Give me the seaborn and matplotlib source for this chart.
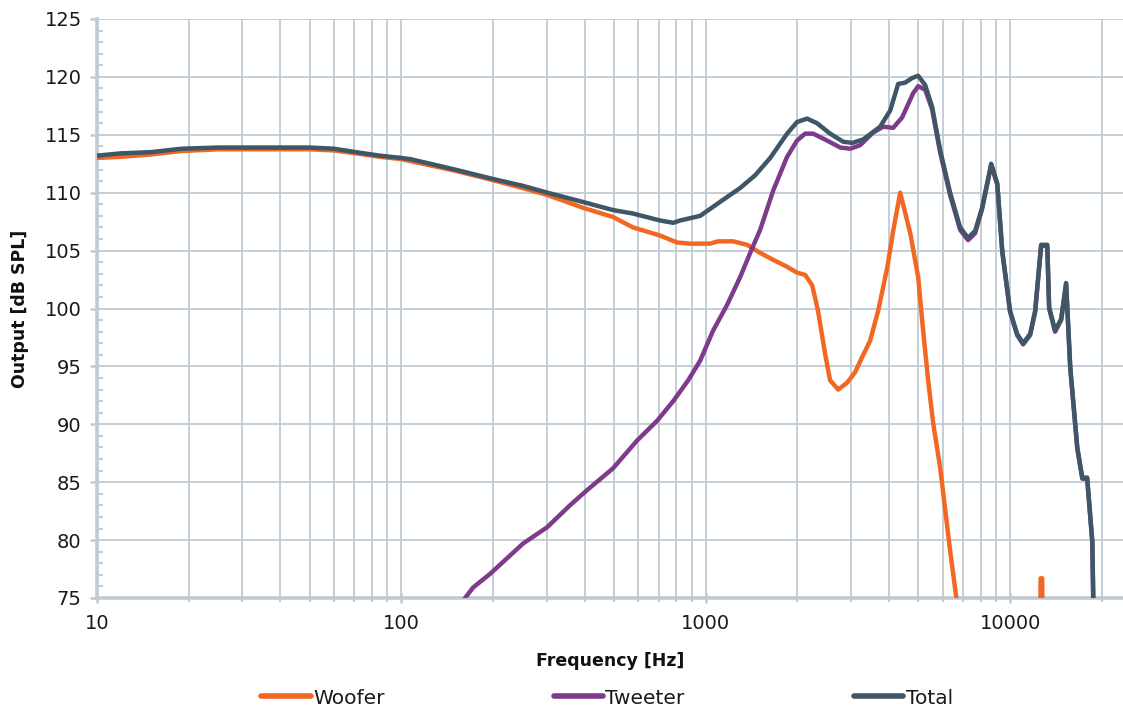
import numpy as np
import pandas as pd
import matplotlib
matplotlib.use("Agg")
import matplotlib.pyplot as plt
import seaborn as sns
from matplotlib.ticker import LogLocator, NullFormatter, FixedLocator, MultipleLocator

# ---------------- data ----------------
woofer_freq = [10, 12, 15, 19, 25, 50, 60, 71, 85, 100, 150, 199, 250, 302, 395, 496, 577,
               708, 805, 889, 1033, 1099, 1231, 1368, 1510, 1667, 1851, 1995, 2122, 2238,
               2339, 2467, 2563, 2725, 2917, 3097, 3266, 3467, 3687, 3947, 4130, 4355, 4700,
               4990, 5180, 5380, 5590, 5890, 6353, 6660, 6900, 8000, 12450, 12600, 12750,
               12900, 20000]
woofer_db = [113.0, 113.1, 113.3, 113.6, 113.75, 113.75, 113.65, 113.4, 113.1, 112.9, 111.9,
             111.1, 110.4, 109.8, 108.7, 107.9, 107.0, 106.3, 105.7, 105.6, 105.6, 105.8,
             105.8, 105.5, 104.8, 104.2, 103.6, 103.1, 102.9, 102.0, 99.8, 96.1, 93.8, 93.0,
             93.6, 94.5, 95.8, 97.2, 99.8, 103.5, 106.7, 110.0, 106.5, 102.7, 98.1, 93.8,
             90.1, 86.3, 79.1, 75.0, 70.0, 60.0, 60.0, 76.7, 76.7, 60.0, 55.0]

tweeter_freq = [140, 162, 172, 196, 251, 301, 358, 407, 496, 595, 692, 782, 876, 959, 1058,
                1175, 1297, 1400, 1510, 1667, 1851, 1995, 2122, 2255, 2505, 2768, 2985, 3216,
                3550, 3831, 4130, 4419, 4806, 4990, 5260, 5546, 5890, 6353, 6853, 7278, 7676,
                8094, 8670, 9078, 9425, 10000, 10550, 11040, 11640, 12090, 12650, 13250,
                13440, 14060, 14720, 15280, 15770, 16630, 17270, 17920, 18630, 18900]
tweeter_db = [73.0, 75.0, 75.9, 77.1, 79.7, 81.1, 83.0, 84.3, 86.2, 88.6, 90.3, 92.0, 93.8,
              95.5, 98.1, 100.3, 102.7, 104.8, 106.8, 110.2, 113.1, 114.5, 115.1, 115.1, 114.5,
              113.9, 113.8, 114.1, 115.2, 115.7, 115.6, 116.5, 118.6, 119.2, 118.9, 117.2,
              113.5, 109.8, 106.8, 105.9, 106.5, 108.6, 112.4, 110.7, 104.9, 99.7, 97.7, 96.9,
              97.7, 99.7, 105.4, 105.4, 100.0, 98.0, 99.0, 102.1, 94.8, 87.9, 85.3, 85.3, 79.8,
              70.0]

total_freq = [10, 12, 15, 19, 25, 50, 60, 71, 85, 100, 107, 150, 199, 250, 302, 395, 496, 577,
              708, 782, 824, 959, 1114, 1297, 1453, 1629, 1851, 1995, 2153, 2322, 2563, 2830,
              3030, 3292, 3742, 4038, 4290, 4520, 4766, 4990, 5260, 5546, 5890, 6353, 6853,
              7278, 7676, 8094, 8670, 9078, 9425, 10000, 10550, 11040, 11640, 12090, 12650,
              13250, 13440, 14060, 14720, 15280, 15770, 16630, 17270, 17920, 18630, 18900]
total_db = [113.2, 113.4, 113.5, 113.8, 113.9, 113.9, 113.8, 113.5, 113.2, 113.0, 112.9, 112.0,
            111.2, 110.6, 110.0, 109.2, 108.5, 108.2, 107.6, 107.4, 107.6, 108.0, 109.2, 110.4,
            111.5, 113.0, 115.1, 116.1, 116.4, 116.0, 115.1, 114.4, 114.3, 114.6, 115.7, 117.1,
            119.4, 119.5, 119.9, 120.1, 119.3, 117.4, 113.7, 110.0, 107.0, 106.1, 106.7, 108.7,
            112.5, 110.8, 105.0, 99.8, 97.8, 97.0, 97.8, 99.8, 105.5, 105.5, 100.1, 98.1, 99.1,
            102.2, 94.9, 88.0, 85.4, 85.4, 79.9, 70.0]

series_names = ["Woofer", "Tweeter", "Total"]
series_colors = ["#F26722", "#7E3B8C", "#3F5667"]
x_ticks = [10, 100, 1000, 10000]
x_tick_labels = ["10", "100", "1000", "10000"]
y_ticks = list(range(75, 126, 5))

# ---------------- build long-form frame ----------------
df = pd.concat([
    pd.DataFrame({"Frequency": woofer_freq, "Output": woofer_db, "Driver": "Woofer"}),
    pd.DataFrame({"Frequency": tweeter_freq, "Output": tweeter_db, "Driver": "Tweeter"}),
    pd.DataFrame({"Frequency": total_freq, "Output": total_db, "Driver": "Total"}),
], ignore_index=True)

sns.set_theme(style="white")
plt.rcParams["font.family"] = ["DejaVu Sans"]

grid_c = "#BFCAD3"
fig = plt.figure(figsize=(11.23, 7.13), dpi=100)
ax = fig.add_axes([97 / 1123, 1 - 598 / 713, 1 - 97 / 1123, (598 - 19) / 713])

palette = dict(zip(series_names, series_colors))
for name in series_names:
    sub = df[df["Driver"] == name]
    sns.lineplot(data=sub, x="Frequency", y="Output", color=palette[name], linewidth=3.2,
                 estimator=None, sort=False, legend=False, ax=ax, label=name,
                 solid_joinstyle="round", solid_capstyle="butt", zorder=3)

ax.set_xscale("log")
ax.set_xlim(10, 23500)
ax.set_ylim(75, 125)
ax.xaxis.set_major_locator(FixedLocator(x_ticks))
ax.set_xticklabels(x_tick_labels)
ax.xaxis.set_minor_locator(LogLocator(base=10, subs=np.arange(2, 10)))
ax.xaxis.set_minor_formatter(NullFormatter())
ax.set_yticks(y_ticks)
ax.yaxis.set_minor_locator(MultipleLocator(1))

ax.grid(True, which="major", axis="both", color=grid_c, linewidth=1.3, zorder=0)
ax.grid(True, which="minor", axis="x", color=grid_c, linewidth=1.3, zorder=0)
ax.set_axisbelow(True)

for s in ["top", "right"]:
    ax.spines[s].set_visible(False)
for s in ["left", "bottom"]:
    ax.spines[s].set_color(grid_c)
    ax.spines[s].set_linewidth(2.6)
    ax.spines[s].set_zorder(2.5)

ax.tick_params(axis="y", which="major", direction="out", length=5, width=1.8, color=grid_c,
               labelsize=14, labelcolor="#1a1a1a", pad=6, left=True)
ax.tick_params(axis="y", which="minor", direction="in", length=4, width=1.5, color=grid_c, left=True)
ax.tick_params(axis="x", which="major", direction="inout", length=7, width=1.8, color=grid_c,
               labelsize=14, labelcolor="#1a1a1a", pad=8, bottom=True)
ax.tick_params(axis="x", which="minor", direction="out", length=3, width=1.5, color=grid_c, bottom=True)

ax.set_xlabel("Frequency [Hz]", fontsize=12.5, fontweight="bold", color="#111111", labelpad=14)
ax.set_ylabel("Output [dB SPL]", fontsize=12.5, fontweight="bold", color="#111111", labelpad=11)

handles, labels = ax.get_legend_handles_labels()
fig.legend(handles, labels, loc="center", bbox_to_anchor=(607 / 1123, 1 - 698 / 713), ncol=3,
           frameon=False, fontsize=14.5, handlelength=2.45, handletextpad=0.12, columnspacing=8.4,
           labelcolor="#1a1a1a")
for h in fig.legends[0].legend_handles:
    h.set_linewidth(4)
    h.set_solid_capstyle("round")

fig.savefig("out.png", dpi=100)
